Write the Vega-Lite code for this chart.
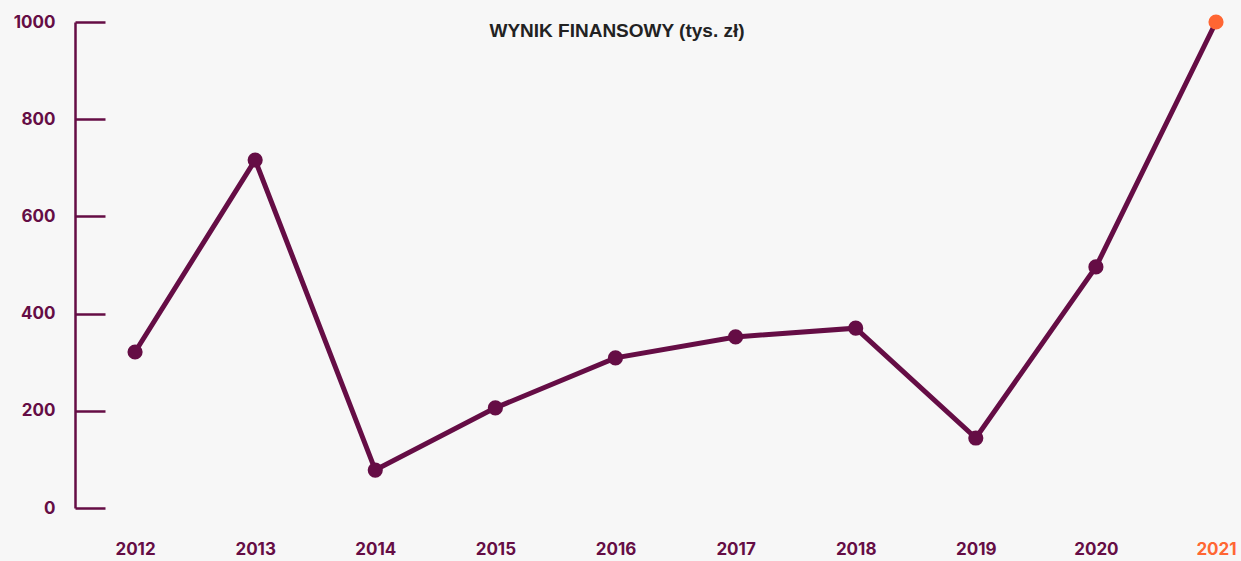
{
  "$schema": "https://vega.github.io/schema/vega-lite/v6.json",
  "autosize": {"type": "none"},
  "padding": {"left": 75, "top": 22, "right": 0, "bottom": 53},
  "width": 1166,
  "height": 486,
  "background": "#f7f7f7",
  "title": {
    "text": "WYNIK FINANSOWY (tys. zł)",
    "font": "Liberation Sans",
    "fontSize": 19,
    "fontWeight": 700,
    "color": "#222222",
    "anchor": "middle",
    "dx": -41,
    "offset": -29
  },
  "config": {
    "view": {"stroke": null},
    "axis": {"labelFont": "Inter", "labelFontWeight": 700, "labelFontSize": 17, "grid": false, "title": null}
  },
  "data": {
    "values": [
      {"year": 2012, "value": 321},
      {"year": 2013, "value": 716},
      {"year": 2014, "value": 78},
      {"year": 2015, "value": 206},
      {"year": 2016, "value": 309},
      {"year": 2017, "value": 352},
      {"year": 2018, "value": 370},
      {"year": 2019, "value": 144},
      {"year": 2020, "value": 496},
      {"year": 2021, "value": 1000}
    ]
  },
  "encoding": {
    "x": {
      "field": "year",
      "type": "quantitative",
      "scale": {"domain": [2011.5, 2021.208], "nice": false, "zero": false},
      "axis": {
        "values": [2012, 2013, 2014, 2015, 2016, 2017, 2018, 2019, 2020, 2021],
        "format": "d",
        "domain": false,
        "ticks": false,
        "labelPadding": 33,
        "labelColor": {"condition": {"test": "datum.value === 2021", "value": "#ff6633"}, "value": "#650d45"}
      }
    },
    "y": {
      "field": "value",
      "type": "quantitative",
      "scale": {"domain": [0, 1000], "nice": false},
      "axis": {
        "values": [0, 200, 400, 600, 800, 1000],
        "format": "d",
        "domainColor": "#650d45",
        "domainWidth": 2.5,
        "tickColor": "#650d45",
        "tickWidth": 2.5,
        "tickSize": -30,
        "labelPadding": 50,
        "labelColor": "#650d45"
      }
    }
  },
  "layer": [
    {"mark": {"type": "line", "color": "#650d45", "strokeWidth": 5}},
    {
      "mark": {"type": "circle", "size": 230, "opacity": 1},
      "encoding": {
        "color": {"condition": {"test": "datum.year === 2021", "value": "#ff6633"}, "value": "#650d45"}
      }
    }
  ]
}
